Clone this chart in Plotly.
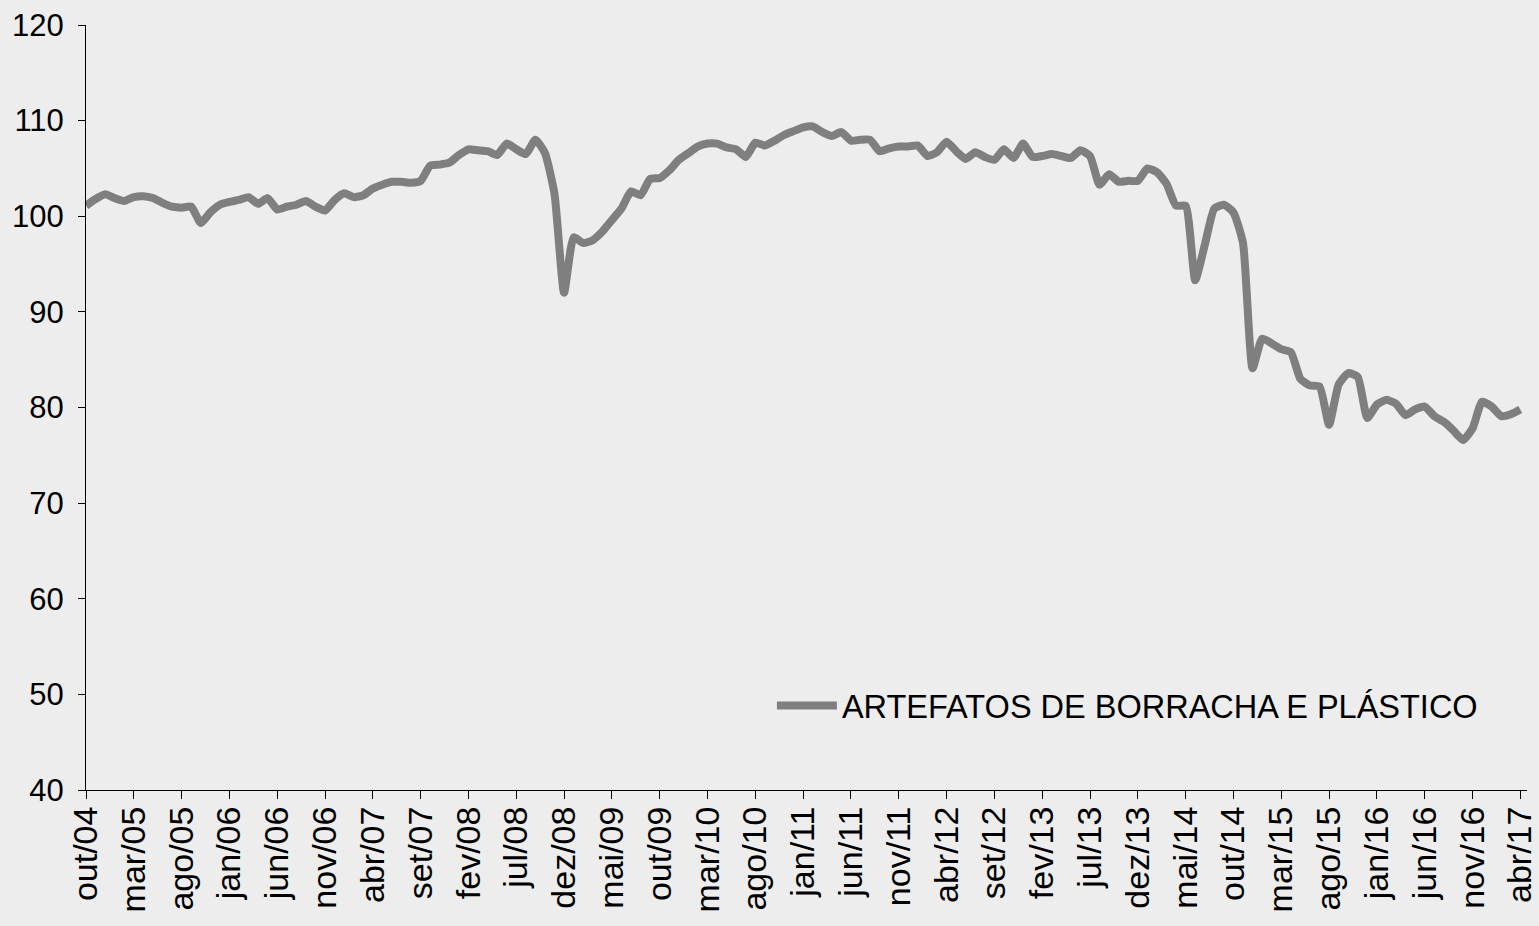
import plotly.graph_objects as go

# ── Data ───────────────────────────────────────────────────────────────────
MONTHS = ["jan", "fev", "mar", "abr", "mai", "jun",
          "jul", "ago", "set", "out", "nov", "dez"]
START_YEAR, START_MONTH = 2004, 10   # out/04
N_POINTS = 151                       # out/04 .. abr/17

SERIES_NAME = "ARTEFATOS DE BORRACHA E PLÁSTICO"

values = [
    101.1, 101.8, 102.3, 101.9, 101.6, 102.0, 102.1, 101.9, 101.4, 101.0,
    100.9, 101.0, 99.3, 100.4, 101.2, 101.5, 101.7, 102.0, 101.3, 101.9,
    100.7, 101.0, 101.2, 101.6, 101.0, 100.6, 101.7, 102.4, 102.0, 102.2,
    102.9, 103.3, 103.6, 103.6, 103.5, 103.7, 105.3, 105.4, 105.6, 106.4,
    107.0, 106.9, 106.8, 106.4, 107.6, 107.0, 106.5, 108.0, 106.6, 102.3,
    92.0, 97.8, 97.2, 97.5, 98.4, 99.6, 100.8, 102.6, 102.2, 103.9,
    104.0, 104.8, 105.9, 106.6, 107.3, 107.6, 107.6, 107.2, 107.0, 106.2,
    107.7, 107.4, 107.9, 108.5, 108.9, 109.3, 109.4, 108.8, 108.4, 108.8,
    107.9, 108.0, 108.0, 106.8, 107.1, 107.3, 107.3, 107.4, 106.3, 106.7,
    107.8, 106.8, 106.0, 106.7, 106.2, 105.9, 107.0, 106.1, 107.6, 106.2,
    106.3, 106.5, 106.3, 106.1, 106.9, 106.3, 103.3, 104.4, 103.6, 103.7,
    103.7, 105.0, 104.6, 103.4, 101.1, 101.1, 93.3, 97.0, 100.8, 101.2,
    100.4, 97.2, 84.1, 87.2, 86.7, 86.1, 85.8, 83.0, 82.3, 82.2,
    78.2, 82.4, 83.6, 83.2, 78.9, 80.3, 80.8, 80.4, 79.2, 79.8,
    80.1, 79.1, 78.5, 77.6, 76.6, 77.8, 80.6, 80.1, 79.1, 79.3,
    79.8,
]

tick_labels = [
    "out/04", "mar/05", "ago/05", "jan/06", "jun/06", "nov/06", "abr/07",
    "set/07", "fev/08", "jul/08", "dez/08", "mai/09", "out/09", "mar/10",
    "ago/10", "jan/11", "jun/11", "nov/11", "abr/12", "set/12", "fev/13",
    "jul/13", "dez/13", "mai/14", "out/14", "mar/15", "ago/15", "jan/16",
    "jun/16", "nov/16", "abr/17",
]

y_ticks = [40, 50, 60, 70, 80, 90, 100, 110, 120]

# month labels for every point (category axis)
periods = []
for k in range(N_POINTS):
    m = (START_MONTH - 1 + k) % 12
    y = START_YEAR + (START_MONTH - 1 + k) // 12
    periods.append(f"{MONTHS[m]}/{y % 100:02d}")

# ── Style ──────────────────────────────────────────────────────────────────
LINE_COLOR = "#7f7f7f"
BG = "#ededed"
FONT = "Arial, Liberation Sans, sans-serif"

fig = go.Figure()
fig.add_trace(go.Scatter(
    x=periods,
    y=values,
    mode="lines",
    name=SERIES_NAME,
    line=dict(color=LINE_COLOR, width=8, shape="spline", smoothing=0.5),
))

fig.update_layout(
    width=1539,
    height=926,
    paper_bgcolor=BG,
    plot_bgcolor=BG,
    font=dict(family=FONT, size=30, color="#000000"),
    margin=dict(l=86, r=12, t=25, b=136, autoexpand=False),
    showlegend=True,
    legend=dict(
        x=0.476, y=0.11, xanchor="left", yanchor="middle",
        bgcolor="rgba(0,0,0,0)",
        font=dict(size=32.5, color="#000000"),
        itemwidth=60,
    ),
    xaxis=dict(
        type="category",
        range=[0, N_POINTS - 0.3],
        tickmode="array",
        tickvals=tick_labels,
        ticktext=tick_labels,
        tickangle=-90,
        ticks="outside",
        ticklen=8,
        tickcolor="#000000",
        showline=True,
        linecolor="#000000",
        linewidth=1,
        showgrid=False,
        zeroline=False,
        automargin=False,
        tickfont=dict(size=34),
        ticklabelstandoff=-6,
    ),
    yaxis=dict(
        range=[40, 120],
        tickvals=y_ticks,
        ticks="outside",
        ticklen=7,
        tickcolor="#000000",
        showline=True,
        linecolor="#000000",
        linewidth=1,
        showgrid=False,
        zeroline=False,
        automargin=False,
        tickfont=dict(size=31),
        ticklabelstandoff=8,
    ),
)

fig.write_html(
    "out.html",
    config={"displayModeBar": False},
    post_script=(
        "document.documentElement.style.overflow='hidden';"
        "document.body.style.overflow='hidden';"
        "document.body.style.margin='0';"
        "document.body.style.background='#ededed';"
    ),
)
